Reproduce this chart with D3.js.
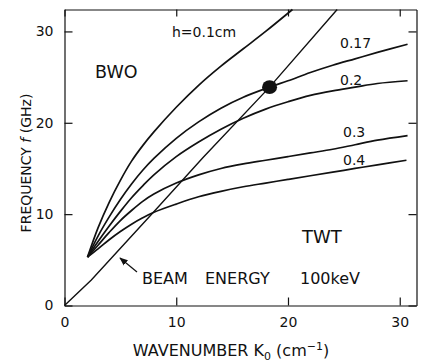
<!DOCTYPE html>
<html><head><meta charset="utf-8">
<script src="https://cdn.jsdelivr.net/npm/d3@7"></script>
<style>
html,body{margin:0;padding:0;background:#fff;}
svg{display:block;font-family:"DejaVu Sans",sans-serif;}
</style></head>
<body><svg id="c" width="421" height="362"></svg>
<script>
// ---- data ----
const xTicks = [0, 10, 20, 30];
const yTicks = [0, 10, 20, 30];
const seriesNames = ["h=0.1cm", "0.17", "0.2", "0.3", "0.4"];
const k01 = [2.06, 3, 4, 5, 6, 7, 8, 10, 12, 14, 16, 18, 20.4];
const f01 = [5.3, 8.5, 11.3, 13.7, 15.8, 17.5, 19.0, 21.7, 24.1, 26.2, 28.1, 30.0, 32.4];
const k017 = [2.06, 3, 4, 5, 6, 7, 8, 10, 12, 14, 16, 18.35, 20, 22, 24, 26, 28, 30.7];
const f017 = [5.3, 7.6, 9.7, 11.6, 13.3, 14.8, 16.1, 18.3, 20.1, 21.6, 22.8, 23.9, 24.6, 25.5, 26.3, 27.0, 27.7, 28.6];
const k02 = [2.06, 3, 4, 5, 6, 7, 8, 10, 12, 14, 16, 18, 20, 22, 24, 26, 28, 30.7];
const f02 = [5.3, 7.0, 8.7, 10.3, 11.8, 13.1, 14.3, 16.3, 17.9, 19.3, 20.5, 21.5, 22.3, 23.0, 23.5, 23.9, 24.3, 24.6];
const k03 = [2.06, 3, 4, 5, 6, 7, 8, 10, 12, 14, 16, 18, 20, 22, 24, 26, 28, 30.7];
const f03 = [5.3, 6.6, 8.0, 9.3, 10.4, 11.4, 12.2, 13.4, 14.3, 15.0, 15.5, 15.9, 16.3, 16.7, 17.1, 17.6, 18.1, 18.6];
const k04 = [2.06, 3, 4, 5, 6, 7, 8, 10, 12, 14, 16, 18, 20, 22, 24, 26, 28, 30.6];
const f04 = [5.3, 6.2, 7.2, 8.1, 8.9, 9.6, 10.2, 11.1, 11.9, 12.5, 13.0, 13.4, 13.8, 14.2, 14.6, 15.0, 15.4, 15.9];
const beamK = [0, 2.4, 8.1, 12.4, 18.35, 24.4];
const beamF = [0, 2.8, 10.4, 16.2, 23.9, 32.4];
const markK = [18.35];
const markF = [23.9];

const svg = d3.select("#c");
const x = d3.scaleLinear().domain([0, 31.5]).range([64.5, 416.5]);
const y = d3.scaleLinear().domain([0, 32.4]).range([305.5, 9.5]);
const ink = "#111";

// axes / frame with inward ticks
const fs = "14px";
const gB = svg.append("g").attr("transform", `translate(0,${y(0)})`)
  .call(d3.axisBottom(x).tickValues(xTicks).tickSizeInner(-8).tickSizeOuter(0).tickPadding(12));
const gL = svg.append("g").attr("transform", `translate(${x(0)},0)`)
  .call(d3.axisLeft(y).tickValues(yTicks).tickSizeInner(-8).tickSizeOuter(0).tickPadding(11));
const gT = svg.append("g").attr("transform", `translate(0,${y.range()[1]})`)
  .call(d3.axisTop(x).tickValues(xTicks).tickSizeInner(-7).tickSizeOuter(0).tickFormat(""));
const gR = svg.append("g").attr("transform", `translate(${x.range()[1]},0)`)
  .call(d3.axisRight(y).tickValues(yTicks).tickSizeInner(-8).tickSizeOuter(0).tickFormat(""));
[gB, gL, gT, gR].forEach(g => {
  g.selectAll("path,line").attr("stroke", ink).attr("stroke-width", 1.2);
  g.selectAll("text").attr("fill", ink).style("font-size", fs).style("font-family", "DejaVu Sans");
});

// curves
const line = d3.line().x(d => x(d[0])).y(d => y(d[1])).curve(d3.curveCatmullRom.alpha(0.5));
const series = [[k01, f01], [k017, f017], [k02, f02], [k03, f03], [k04, f04]];
series.forEach(([ks, fsv]) => {
  svg.append("path").datum(ks.map((k, i) => [k, fsv[i]]))
    .attr("d", line).attr("fill", "none").attr("stroke", ink).attr("stroke-width", 1.7);
});
const bline = d3.line().x(d => x(d[0])).y(d => y(d[1]));
svg.append("path").datum(beamK.map((k, i) => [k, beamF[i]]))
  .attr("d", bline).attr("fill", "none").attr("stroke", ink).attr("stroke-width", 1.4);

svg.selectAll("ellipse.mark").data(markK.map((k, i) => [k, markF[i]])).enter()
  .append("ellipse").attr("class", "mark")
  .attr("cx", d => x(d[0])).attr("cy", d => y(d[1])).attr("rx", 7.5).attr("ry", 6.8).attr("fill", ink);

// labels
function txt(s, px, py, size, anchor) {
  return svg.append("text").attr("x", px).attr("y", py).attr("fill", ink)
    .attr("text-anchor", anchor || "start").style("font-size", size + "px").text(s);
}
txt(seriesNames[0], 172, 37, 14);
txt(seriesNames[1], 340, 48, 14);
txt(seriesNames[2], 340, 85, 14);
txt(seriesNames[3], 343, 137, 14);
txt(seriesNames[4], 343, 165, 14);
txt("BWO", 95, 78, 17.5);
txt("TWT", 302, 243, 18);
const be = svg.append("text").attr("x", 142).attr("y", 284).attr("fill", ink).style("font-size", "16px");
be.append("tspan").text("BEAM");
be.append("tspan").attr("x", 205).text("ENERGY");
be.append("tspan").attr("x", 300).text("100keV");

// arrow
svg.append("defs").append("marker").attr("id", "ah").attr("viewBox", "0 0 10 10")
  .attr("refX", 9).attr("refY", 5).attr("markerWidth", 7).attr("markerHeight", 7)
  .attr("orient", "auto").append("path").attr("d", "M0,1 L10,5 L0,9 Z").attr("fill", ink);
svg.append("line").attr("x1", 137).attr("y1", 272).attr("x2", 120).attr("y2", 258)
  .attr("stroke", ink).attr("stroke-width", 1.2).attr("marker-end", "url(#ah)");

// axis titles
const xt = svg.append("text").attr("x", 231).attr("y", 356).attr("text-anchor", "middle")
  .attr("fill", ink).style("font-size", "16px");
xt.append("tspan").text("WAVENUMBER K");
xt.append("tspan").attr("dy", 4).style("font-size", "11px").text("0");
xt.append("tspan").attr("dy", -4).text(" (cm");
xt.append("tspan").attr("dy", -6).style("font-size", "11px").text("\u22121");
xt.append("tspan").attr("dy", 6).text(")");

const yt = svg.append("text").attr("transform", "translate(31,163) rotate(-90)")
  .attr("text-anchor", "middle").attr("fill", ink).style("font-size", "14px");
yt.append("tspan").text("FREQUENCY ");
yt.append("tspan").style("font-style", "italic").text("f");
yt.append("tspan").text(" (GHz)");
</script></body></html>
